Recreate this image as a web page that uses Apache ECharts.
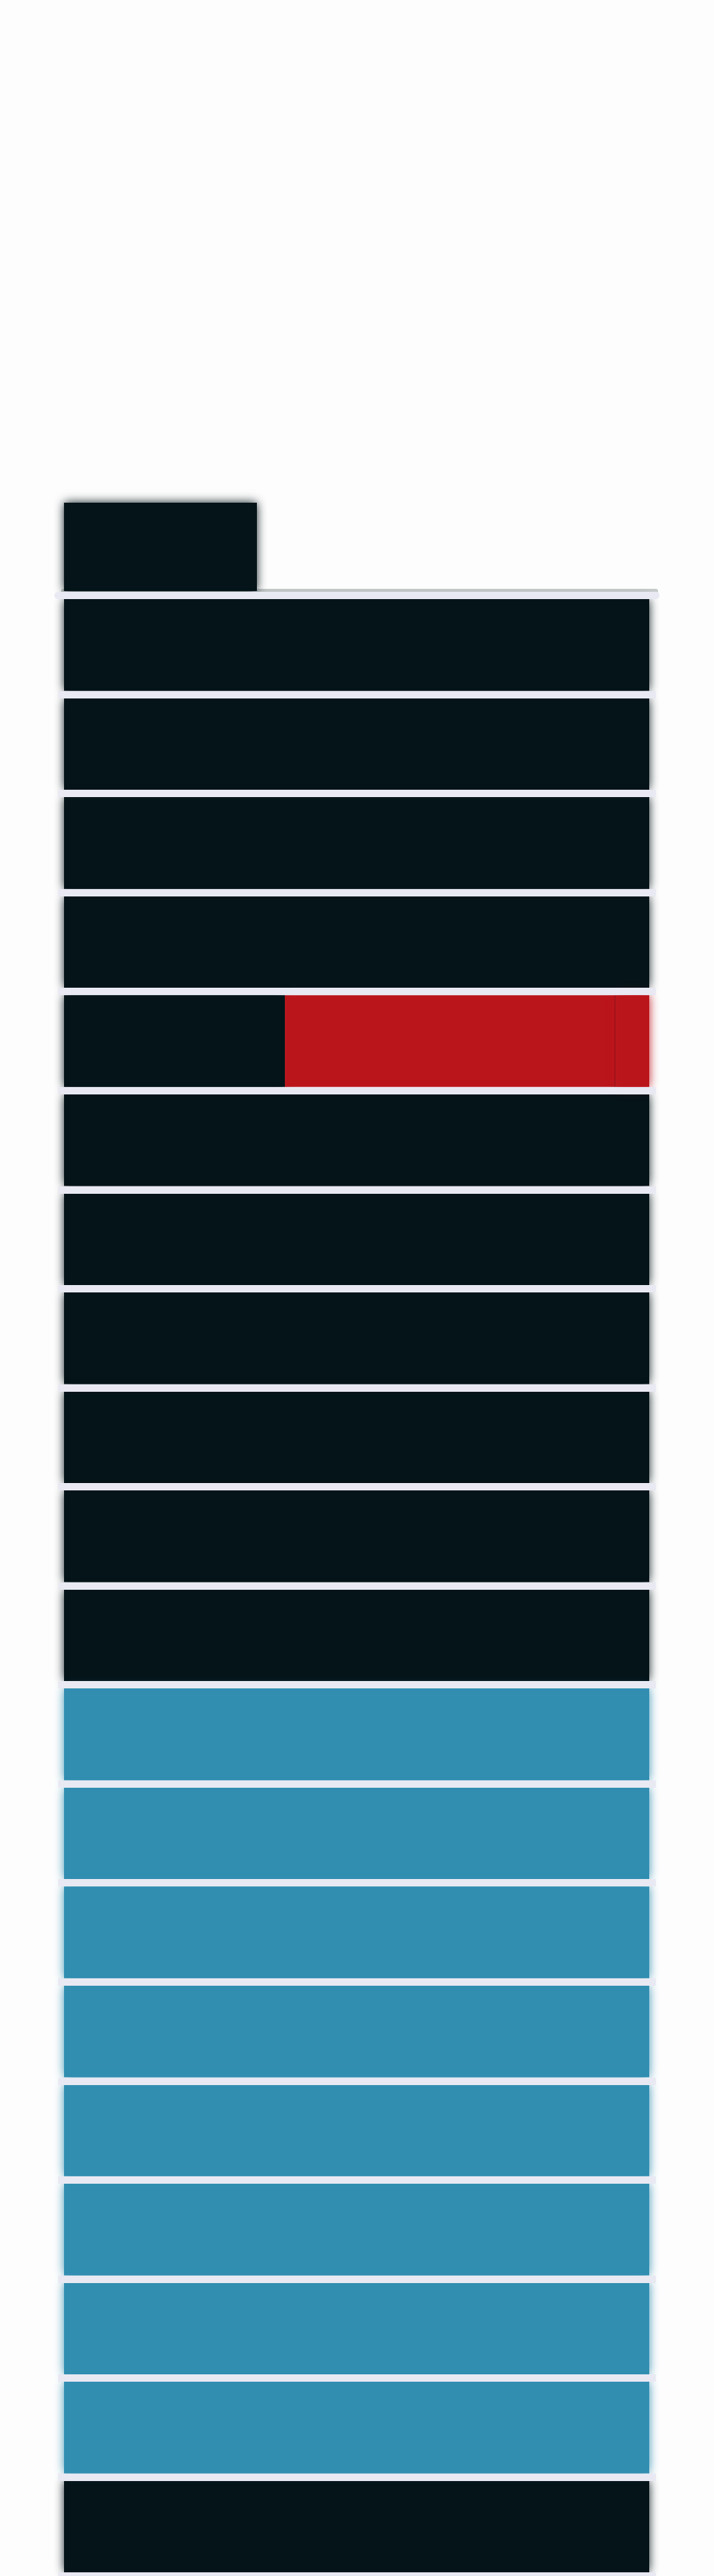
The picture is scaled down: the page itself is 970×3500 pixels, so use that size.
<!DOCTYPE html>
<html>
<head>
<meta charset="utf-8">
<script src="https://cdn.jsdelivr.net/npm/echarts@6/dist/echarts.min.js"></script>
<style>
html,body{margin:0;padding:0;background:#fdfdfd;}
#chart{width:970px;height:3500px;}
</style>
</head>
<body>
<div id="chart"></div>
<script>
// ---- data ----
const topCategories = ['Row 0'];
const mainCategories = ['Row 1','Row 2','Row 3','Row 4','Row 5','Row 6','Row 7','Row 8','Row 9','Row 10',
  'Row 11','Row 12','Row 13','Row 14','Row 15','Row 16','Row 17','Row 18','Row 19','Row 20'];
const topDark = [32.96];
const mainDark      = [100,100,100,100,37.74,100,100,100,100,100,100,null,null,null,null,null,null,null,null,100];
const mainRed       = [null,null,null,null,56.35,null,null,null,null,null,null,null,null,null,null,null,null,null,null,null];
const mainRedDivider= [null,null,null,null,0.13,null,null,null,null,null,null,null,null,null,null,null,null,null,null,null];
const mainRedTail   = [null,null,null,null,5.78,null,null,null,null,null,null,null,null,null,null,null,null,null,null,null];
const mainBlue      = [null,null,null,null,null,null,null,null,null,null,null,100,100,100,100,100,100,100,100,null];

const DARK = '#051419', RED = '#bb151c', RED_LINE = '#8c1015', BLUE = '#318eb1', LAVENDER = '#e9e9f3';
const AX_MIN = -1.006, AX_MAX = 101.132;

const chart = echarts.init(document.getElementById('chart'), null, {renderer: 'canvas'});
const hiddenValueAxis = (gridIndex, position, lineCfg, z) => ({
  type: 'value', gridIndex, position, min: AX_MIN, max: AX_MAX, z,
  axisLabel: {show: false}, axisTick: {show: false}, splitLine: {show: false},
  axisLine: lineCfg
});
const catAxis = (gridIndex, data, split, z) => ({
  type: 'category', gridIndex, data, inverse: true, z,
  axisLabel: {show: false}, axisTick: {show: false}, axisLine: {show: false},
  splitLine: split ? {show: true, interval: 0, lineStyle: {color: LAVENDER, width: 10}} : {show: false}
});
const soft = (color) => ({color, shadowBlur: 13, shadowColor: color});

chart.setOption({
  animation: false,
  backgroundColor: '#fdfdfd',
  grid: [
    {left: 86, right: 79, top: 683, height: 120, show: false},
    {left: 79, right: 79, top: 809, height: 2692, show: false}
  ],
  xAxis: [
    {type: 'value', gridIndex: 0, position: 'bottom', min: -0.117, max: 101.132, z: 0,
      axisLabel: {show: false}, axisTick: {show: false}, splitLine: {show: false},
      axisLine: {show: true, onZero: false, lineStyle: {color: '#c6cbcb', width: 6}}},
    hiddenValueAxis(1, 'top', {show: true, onZero: false, lineStyle: {color: LAVENDER, width: 10}}, 6)
  ],
  yAxis: [catAxis(0, topCategories, false, 0), catAxis(1, mainCategories, true, 5)],
  series: [
    {type: 'bar', name: 'top', xAxisIndex: 0, yAxisIndex: 0, data: topDark, barWidth: 122,
      itemStyle: soft(DARK)},
    {type: 'bar', name: 'dark', xAxisIndex: 1, yAxisIndex: 1, stack: 's', data: mainDark, barWidth: 124.6,
      itemStyle: soft(DARK)},
    {type: 'bar', name: 'red', xAxisIndex: 1, yAxisIndex: 1, stack: 's', data: mainRed, barWidth: 124.6,
      itemStyle: {color: RED}},
    {type: 'bar', name: 'redDivider', xAxisIndex: 1, yAxisIndex: 1, stack: 's', data: mainRedDivider, barWidth: 124.6,
      z: 3, itemStyle: {color: RED_LINE}},
    {type: 'bar', name: 'redTail', xAxisIndex: 1, yAxisIndex: 1, stack: 's', data: mainRedTail, barWidth: 124.6,
      itemStyle: soft(RED)},
    {type: 'bar', name: 'blue', xAxisIndex: 1, yAxisIndex: 1, stack: 's', data: mainBlue, barWidth: 124.6,
      itemStyle: soft(BLUE)}
  ]
});
</script>
</body>
</html>
